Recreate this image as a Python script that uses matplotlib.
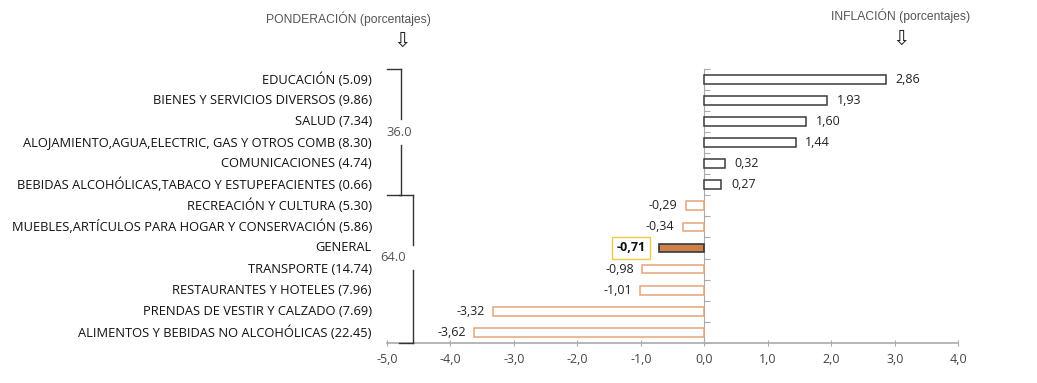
import numpy as np
import matplotlib.pyplot as plt
from matplotlib.ticker import FuncFormatter, FixedLocator
from matplotlib.transforms import blended_transform_factory

categorias = [
    "EDUCACIÓN (5.09)",
    "BIENES Y SERVICIOS DIVERSOS (9.86)",
    "SALUD (7.34)",
    "ALOJAMIENTO,AGUA,ELECTRIC, GAS Y OTROS COMB (8.30)",
    "COMUNICACIONES (4.74)",
    "BEBIDAS ALCOHÓLICAS,TABACO Y ESTUPEFACIENTES (0.66)",
    "RECREACIÓN Y CULTURA (5.30)",
    "MUEBLES,ARTÍCULOS PARA HOGAR Y CONSERVACIÓN (5.86)",
    "GENERAL",
    "TRANSPORTE (14.74)",
    "RESTAURANTES Y HOTELES (7.96)",
    "PRENDAS DE VESTIR Y CALZADO (7.69)",
    "ALIMENTOS Y BEBIDAS NO ALCOHÓLICAS (22.45)",
]
inflacion = [2.86, 1.93, 1.60, 1.44, 0.32, 0.27,
             -0.29, -0.34, -0.71, -0.98, -1.01, -3.32, -3.62]
grupos = [("36.0", 0, 6), ("64.0", 6, 13)]
xticks = [-5, -4, -3, -2, -1, 0, 1, 2, 3, 4]

label_font = ["Open Sans", "DejaVu Sans"]
head_font = ["Liberation Sans", "DejaVu Sans"]

fig = plt.figure(figsize=(10.37, 3.83), dpi=100)
ax = fig.add_axes([0.373, 0.105, 0.551, 0.715])

y = np.arange(len(categorias))
for i, v in enumerate(inflacion):
    if categorias[i] == "GENERAL":
        fc, ec, lw = "#CD8048", "#3a3a3a", 1.2
    elif v >= 0:
        fc, ec, lw = "white", "#3a3a3a", 1.1
    else:
        fc, ec, lw = "white", "#E6A47A", 1.1
    ax.barh(y[i], v, height=0.42, color=fc, edgecolor=ec, linewidth=lw, zorder=3)

    txt = f"{v:.2f}".replace(".", ",")
    if v >= 0:
        ax.annotate(txt, (v, y[i]), xytext=(7, 0), textcoords="offset points",
                    ha="left", va="center", fontsize=9, color="#222222",
                    family=label_font)
    elif categorias[i] == "GENERAL":
        ax.annotate(txt, (v, y[i]), xytext=(-10, 0), textcoords="offset points",
                    ha="right", va="center", fontsize=9, color="#111111",
                    fontweight="bold", family=label_font,
                    bbox=dict(boxstyle="square,pad=0.35", fc="white",
                              ec="#F2C744", lw=1))
    else:
        ax.annotate(txt, (v, y[i]), xytext=(-6, 0), textcoords="offset points",
                    ha="right", va="center", fontsize=9, color="#222222",
                    family=label_font)

ax.set_xlim(-5, 4)
ax.set_ylim(len(categorias) - 0.5, -0.5)
ax.set_xticks(xticks)
ax.xaxis.set_major_formatter(FuncFormatter(lambda x, p: f"{x:.1f}".replace(".", ",")))
for t in ax.get_xticklabels():
    t.set_family(label_font)
ax.tick_params(axis="x", labelsize=9, colors="#444444", length=4,
               direction="inout", color="#aaaaaa", pad=5)

ax.spines["left"].set_position(("data", 0))
ax.spines["left"].set_color("#aaaaaa")
ax.spines["bottom"].set_color("#aaaaaa")
ax.spines["bottom"].set_linewidth(1.2)
ax.spines["top"].set_visible(False)
ax.spines["right"].set_visible(False)
ax.yaxis.set_major_locator(FixedLocator(np.arange(-0.5, len(categorias), 1.0)))
ax.tick_params(axis="y", direction="in", length=4, color="#aaaaaa", labelleft=False)

# nombres de las categorias a la izquierda
tr = blended_transform_factory(ax.transAxes, ax.transData)
for i, c in enumerate(categorias):
    ax.text(-0.026, y[i], c, transform=tr, ha="right", va="center",
            fontsize=9.3, color="#111111", family=label_font, clip_on=False)

# llaves de ponderacion
bx = [-4.78, -4.59]
mids = [2.5, 8.45]
lab_x = [-4.8, -4.9]
for k, (lab, a, b) in enumerate(grupos):
    top, bot = a - 0.5, b - 0.5
    mid = mids[k]
    x0 = bx[k]
    kw = dict(color="#333333", lw=1, clip_on=False, zorder=4)
    ax.plot([x0 - 0.22, x0], [top, top], **kw)
    ax.plot([x0, x0], [top, mid - 0.6], **kw)
    ax.plot([x0, x0], [mid + 0.6, bot], **kw)
    ax.plot([x0, x0 - 0.22], [bot, bot], **kw)
    ax.text(lab_x[k], mid, lab, ha="center", va="center", fontsize=9.3,
            color="#555555", family=label_font, zorder=5)

fig.text(0.336, 0.952, "PONDERACIÓN (porcentajes)", ha="center", va="center",
         fontsize=8.7, color="#555555", family=head_font)
fig.text(0.388, 0.893, "\u21e9", ha="center", va="center", fontsize=15,
         color="#222222", family=["DejaVu Sans"])
fig.text(0.868, 0.960, "INFLACIÓN (porcentajes)", ha="center", va="center",
         fontsize=8.7, color="#555555", family=head_font)
fig.text(0.869, 0.900, "\u21e9", ha="center", va="center", fontsize=15,
         color="#222222", family=["DejaVu Sans"])

fig.savefig("out.png", dpi=100)
